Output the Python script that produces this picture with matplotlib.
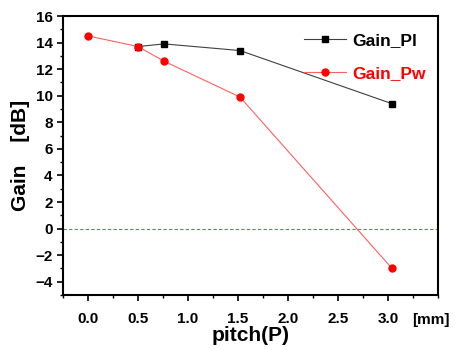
import matplotlib
matplotlib.use("Agg")
import matplotlib.pyplot as plt
from matplotlib.ticker import MultipleLocator

plt.rcParams['font.family'] = ['Liberation Sans', 'DejaVu Sans']
plt.rcParams['font.weight'] = 'bold'
plt.rcParams['axes.labelweight'] = 'bold'

pl_x = [0.5, 0.76, 1.52, 3.04]
pl_y = [13.7, 13.9, 13.4, 9.4]
pw_x = [0.0, 0.5, 0.76, 1.52, 3.04]
pw_y = [14.5, 13.7, 12.6, 9.9, -3.0]

fig = plt.figure(figsize=(4.56, 3.5), dpi=100)
ax = fig.add_axes([63/456, 55/350, 375/456, 279/350])

ax.axhline(0, color='#559922', lw=0.8, ls=(0, (3, 2)))
ax.plot(pl_x, pl_y, color='#404040', lw=0.8, marker='s', ms=5,
        mfc='black', mec='black', label='Gain_Pl')
ax.plot(pw_x, pw_y, color='#ff6060', lw=0.8, marker='o', ms=5,
        mfc='red', mec='red', label='Gain_Pw')

ax.set_xlim(-0.25, 3.5)
ax.set_ylim(-5, 16)
ax.xaxis.set_minor_locator(MultipleLocator(0.25))
ax.yaxis.set_major_locator(MultipleLocator(2))
ax.yaxis.set_minor_locator(MultipleLocator(1))
ax.set_xticks([0, 0.5, 1.0, 1.5, 2.0, 2.5, 3.0])
ax.set_xticklabels(['0.0', '0.5', '1.0', '1.5', '2.0', '2.5', '3.0'])
ax.tick_params(which='major', length=4, width=1.2, labelsize=11)
ax.tick_params(which='minor', length=2.5, width=1.0)
ax.tick_params(axis='x', pad=8)
for lbl in ax.get_xticklabels() + ax.get_yticklabels():
    lbl.set_fontweight('bold')
for s in ax.spines.values():
    s.set_linewidth(1.5)

ax.set_xlabel('pitch(P)', fontsize=15, fontweight='bold', labelpad=0)
ax.set_ylabel('Gain    [dB]', fontsize=15, fontweight='bold', labelpad=4)
ax.text(3.43, -6.85, '[mm]', fontsize=11, fontweight='bold', ha='center', va='center')

leg = ax.legend(loc='upper right', bbox_to_anchor=(1.01, 0.995), frameon=False,
                prop={'size': 12.5, 'weight': 'bold'}, handlelength=2.4, labelspacing=1.0,
                handletextpad=0.4)
for t, c in zip(leg.get_texts(), ['black', 'red']):
    t.set_color(c)

fig.savefig('out.png', dpi=100)
